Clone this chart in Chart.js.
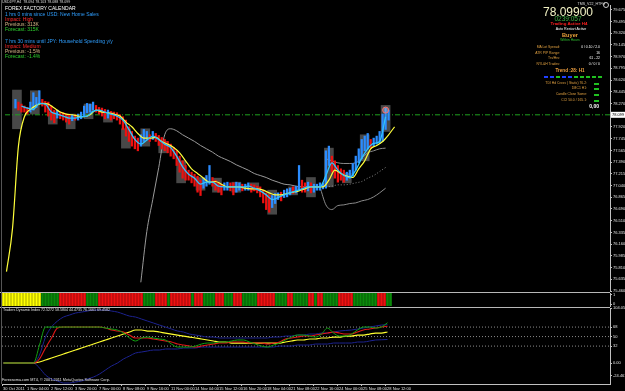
<!DOCTYPE html>
<html>
<head>
<meta charset="utf-8">
<script src="https://cdn.jsdelivr.net/npm/chart.js@4.4.0/dist/chart.umd.min.js"></script>
<style>
  html, body { margin: 0; padding: 0; background: #000; }
  body { width: 625px; height: 391px; position: relative; overflow: hidden; font-family: "Liberation Sans", Arial, sans-serif; }
  canvas { position: absolute; left: 0; }
  .t { position: absolute; white-space: nowrap; line-height: 1; }
  .c { transform: translateX(-50%); }
  .sep { position: absolute; left: 0; width: 610px; height: 1px; background: #b8b8b8; }
  .sq { position: absolute; width: 4px; height: 2px; }
</style>
</head>
<body>
<canvas id="mainChart" width="625" height="296" style="top:0"></canvas>
<canvas id="stripChart" width="625" height="19" style="top:290px"></canvas>
<canvas id="tdiChart" width="625" height="85" style="top:306px"></canvas>

<div class="sep" style="top:292px"></div>
<div class="sep" style="top:307px"></div>
<div style="position:absolute;left:1px;top:0;width:1px;height:384px;background:#555"></div>

<!-- calendar block, top left -->
<div class="t" style="left:2px;top:1px;font-size:3.6px;color:#ddd">USDJPY,H4&nbsp; 78.094 78.103 78.088 78.099</div>
<div class="t" style="left:5px;top:5.8px;font-size:5px;color:#fff">FOREX FACTORY CALENDAR</div>
<div class="t" style="left:5px;top:11.5px;font-size:5px;color:#2f9fff">1 hrs 0 mins since USD: New Home Sales</div>
<div class="t" style="left:5px;top:16.5px;font-size:5px;color:#ff2a2a">Impact: High</div>
<div class="t" style="left:5px;top:21.5px;font-size:5px;color:#d8b888">Previous: 313K</div>
<div class="t" style="left:5px;top:26.5px;font-size:5px;color:#2ed12e">Forecast: 315K</div>
<div class="t" style="left:5px;top:38.5px;font-size:5px;color:#2f9fff">7 hrs 30 mins until JPY: Household Spending y/y</div>
<div class="t" style="left:5px;top:43.5px;font-size:5px;color:#ff2a2a">Impact: Medium</div>
<div class="t" style="left:5px;top:48.5px;font-size:5px;color:#d8b888">Previous: -1.5%</div>
<div class="t" style="left:5px;top:53.5px;font-size:5px;color:#2ed12e">Forecast: -1.4%</div>

<!-- expert panel, top right -->
<div class="t" style="right:20px;top:2.5px;font-size:3.6px;color:#ddd">TMS_V22_HTFH</div>
<div style="position:absolute;left:603px;top:2px;width:4px;height:4px;border:1px solid #ccc;border-radius:50%"></div>
<div class="t c" style="left:568px;top:6px;font-size:12px;color:#f2f2c4">78.09900</div>
<div class="t c" style="left:568px;top:15.8px;font-size:6.5px;color:#3cb043">0239:057</div>
<div class="t c" style="left:569px;top:22.3px;font-size:4.4px;font-weight:bold;color:#ff2020">Trading Active H4</div>
<div class="t c" style="left:571px;top:27.7px;font-size:3.6px;color:#fff">Auto Restart Active</div>
<div class="t c" style="left:570px;top:32.7px;font-size:5.6px;font-weight:bold;color:#eaa23a">Buyer</div>
<div class="t c" style="left:570px;top:38.8px;font-size:3.4px;color:#30c030">Within Hours</div>

<div class="t" style="right:65px;top:46.3px;font-size:3.4px;color:#e0a040">MA Lot Spread:</div>
<div class="t" style="right:25px;top:46.3px;font-size:3.4px;color:#fff">0 / 0.10 / 2.0</div>
<div class="t" style="right:65px;top:51.6px;font-size:3.4px;color:#e0a040">ATR PIP Range:</div>
<div class="t" style="right:25px;top:51.6px;font-size:3.4px;color:#fff">16</div>
<div class="t" style="right:65px;top:57.3px;font-size:3.4px;color:#e0a040">Trs/Hrs:</div>
<div class="t" style="right:25px;top:57.3px;font-size:3.4px;color:#fff">61 - 22</div>
<div class="t" style="right:65px;top:63.3px;font-size:3.4px;color:#e0a040">NYL&amp;H Trades:</div>
<div class="t" style="right:25px;top:63.3px;font-size:3.4px;color:#fff">0 / 0 / 0</div>
<div class="t c" style="left:570px;top:68.7px;font-size:4.6px;font-weight:bold;color:#f0a040">Trend :28: H1</div>
<div id="trendRow"></div>

<div class="t" style="right:38px;top:81.6px;font-size:3.4px;color:#e0a040">TDI Hd Cross ( Static) 76.2:</div>
<div class="t" style="right:38px;top:87.3px;font-size:3.4px;color:#e0a040">1MC1 H1:</div>
<div class="t" style="right:38px;top:93px;font-size:3.4px;color:#e0a040">Candle Close Same:</div>
<div class="t" style="right:38px;top:98.6px;font-size:3.4px;color:#e0a040">CCI 50.0 / 165.1:</div>
<div class="sq" style="left:594px;top:82.5px;width:5px;background:#20c020"></div>
<div class="sq" style="left:594px;top:88.2px;width:5px;background:#20c020"></div>
<div class="sq" style="left:594px;top:93.9px;width:5px;background:#20c020"></div>
<div class="sq" style="left:594px;top:99.5px;width:5px;background:#20c020"></div>
<div class="t" style="right:26px;top:104.3px;font-size:5px;font-weight:bold;color:#fff">0,00</div>

<!-- indicator captions -->
<div class="t" style="left:3px;top:309.3px;font-size:3.6px;color:#e0e0e0">Traders Dynamic Index 72.5272 58.5804 44.4735 76.1661 69.4582</div>
<div class="t" style="left:2px;top:379.2px;font-size:3.8px;color:#e0e0e0">Forexsoma.com MT4, © 2001-2011 MetaQuotes Software Corp.</div>

<script>
// ---- data (H4 bars, one slot per bar, slot 0 = 30 Oct 2011) ----
const dateLabels = ["30 Oct 2011", "1 Nov 04:00", "2 Nov 12:00", "3 Nov 20:00", "7 Nov 00:00",
  "8 Nov 08:00", "9 Nov 16:00", "11 Nov 00:00", "14 Nov 04:00", "15 Nov 12:00", "16 Nov 20:00",
  "18 Nov 04:00", "21 Nov 08:00", "22 Nov 16:00", "24 Nov 00:00", "25 Nov 08:00", "28 Nov 12:00"];
const labelEvery = 8;

const priceTicks = [79.675, 79.495, 79.320, 79.145, 78.970, 78.795, 78.620, 78.445, 78.270,
  77.920, 77.745, 77.565, 77.390, 77.215, 77.040, 76.865, 76.690, 76.510, 76.335, 76.160,
  75.985, 75.810, 75.635, 75.460];
const lastPrice = 78.099;

// price bars, first bar at slot 3
const candleStart = 3;
const candleHigh = [
  78.33, 78.29, 78.26, 78.23, 78.21, 78.29, 78.43, 78.36, 78.46, 78.33,
  78.30, 78.29, 78.23, 78.17, 78.17, 78.14, 78.13, 78.11, 78.10, 78.10,
  78.10, 78.11, 78.14, 78.23, 78.27, 78.26, 78.29, 78.24, 78.21, 78.20,
  78.18, 78.17, 78.15, 78.14, 78.13, 78.10, 78.07, 78.02, 77.92, 77.85,
  77.78, 77.75, 77.80, 77.88, 77.85, 77.80, 77.85, 77.82, 77.79, 77.76,
  77.73, 77.70, 77.66, 77.61, 77.56, 77.48, 77.41, 77.34, 77.27, 77.24,
  77.21, 77.18, 77.12, 77.15, 77.19, 77.34, 77.16, 77.12, 77.09, 77.06,
  77.08, 77.09, 77.08, 77.08, 77.09, 77.08, 77.06, 77.06, 77.08, 77.06,
  77.05, 77.03, 77.02, 76.97, 76.93, 76.90, 76.89, 76.92, 76.93, 76.94,
  76.97, 76.99, 77.00, 77.02, 77.03, 77.34, 77.12, 77.08, 77.09, 77.08,
  77.06, 77.06, 77.08, 77.08, 77.56, 77.63, 77.48, 77.41, 77.34, 77.29,
  77.27, 77.24, 77.27, 77.37, 77.48, 77.59, 77.73, 77.78, 77.82, 77.73,
  77.75, 77.78, 77.85, 78.11, 78.20, 78.17];
const candleLow = [
  78.20, 78.17, 78.14, 78.14, 78.11, 78.14, 78.17, 78.21, 78.26, 78.23,
  78.14, 78.08, 78.02, 77.98, 78.05, 78.04, 78.02, 77.99, 77.96, 78.01,
  78.02, 78.02, 78.04, 78.08, 78.13, 78.14, 78.17, 78.14, 78.11, 78.08,
  78.04, 78.05, 78.02, 78.04, 78.02, 77.96, 77.88, 77.78, 77.70, 77.63,
  77.59, 77.56, 77.63, 77.70, 77.73, 77.70, 77.73, 77.70, 77.64, 77.59,
  77.56, 77.53, 77.48, 77.44, 77.34, 77.24, 77.15, 77.12, 77.12, 77.08,
  77.03, 76.94, 76.89, 77.00, 77.03, 77.06, 77.03, 76.97, 76.94, 76.90,
  76.97, 76.97, 76.96, 76.90, 76.94, 76.97, 76.96, 76.97, 76.97, 76.94,
  76.96, 76.93, 76.87, 76.78, 76.68, 76.64, 76.71, 76.77, 76.83, 76.81,
  76.86, 76.87, 76.90, 76.92, 76.93, 76.97, 76.94, 76.94, 76.96, 76.93,
  76.94, 76.97, 76.97, 76.99, 77.00, 77.34, 77.24, 77.15, 77.09, 77.12,
  77.09, 77.12, 77.15, 77.18, 77.27, 77.38, 77.44, 77.56, 77.59, 77.60,
  77.63, 77.66, 77.67, 77.70, 77.88, 78.02];
const candleDir =
  "udddduuuud" + "dddduddddu" + "duuuuuuddd" + "dudddddddd" + "dduuududdd" +
  "dddddddddd" + "ddduuudddd" + "uudduuduud" + "dddddduuud" + "uuuduuddud" +
  "uuuuuudddd" + "duuuuuuuud" + "uuuuuu";

// daily range boxes
const boxSlot = [3.5, 9.5, 15.5, 21.5, 27.5, 34, 40, 46.5, 52.5, 58.5, 65, 70.5, 77, 83, 89, 96, 102, 108, 114, 120, 127];
const boxTop = [78.47, 78.46, 78.14, 78.11, 78.26, 78.14, 77.89, 77.89, 77.70, 77.41, 77.16,
  77.15, 77.09, 77.08, 76.97, 77.02, 77.16, 77.60, 77.22, 77.80, 78.24];
const boxBottom = [77.89, 78.11, 77.96, 77.89, 78.04, 77.99, 77.60, 77.63, 77.53, 77.08, 76.97,
  76.94, 76.94, 76.97, 76.61, 76.90, 76.87, 77.02, 77.08, 77.41, 77.85];

// moving averages, sampled every 2 slots
const fastMA = [
  78.23, 78.20, 78.18, 78.27, 78.26, 78.14, 78.11, 78.08, 78.05, 78.05,
  78.07, 78.08, 78.15, 78.17, 78.14, 78.11, 78.08, 78.02, 77.88, 77.73,
  77.66, 77.72, 77.78, 77.73, 77.66, 77.61, 77.48, 77.32, 77.21, 77.15,
  77.06, 77.09, 77.09, 77.03, 77.02, 77.02, 77.02, 77.02, 77.03, 77.00,
  76.96, 76.90, 76.83, 76.86, 76.90, 76.93, 76.96, 76.99, 77.02, 77.02,
  77.02, 77.19, 77.38, 77.27, 77.19, 77.16, 77.27, 77.45, 77.59, 77.67,
  77.70, 78.07];                                   // from slot 5
const slowMA = [
  75.75, 76.39, 77.63, 78.07, 78.18, 78.24, 78.27, 78.26, 78.20, 78.14, 78.11,
  78.10, 78.08, 78.07, 78.10, 78.17, 78.14, 78.13, 78.11, 78.08, 77.99,
  77.92, 77.82, 77.75, 77.75, 77.76, 77.70, 77.66, 77.61, 77.53, 77.41,
  77.29, 77.22, 77.15, 77.09, 77.10, 77.06, 77.02, 77.02, 77.02, 77.00,
  76.99, 76.99, 76.97, 76.93, 76.90, 76.90, 76.92, 76.94, 76.96, 76.99,
  77.02, 77.02, 77.02, 77.12, 77.27, 77.22, 77.18, 77.16, 77.29, 77.41,
  77.59, 77.64, 77.70, 77.80, 77.92];              // from slot 0
const longMA = [
  75.59, 76.35, 76.83, 77.31, 77.80, 77.89, 77.86, 77.80, 77.75, 77.70,
  77.64, 77.59, 77.54, 77.48, 77.44, 77.40, 77.35, 77.31, 77.27, 77.22,
  77.19, 77.16, 77.12, 77.09, 77.06, 77.05, 77.03, 77.02, 77.02, 77.02,
  77.02];                                          // from slot 45
const bandUpper = [77.44, 77.41, 77.38, 77.37, 77.37, 77.38, 77.45, 77.53, 77.56, 77.59, 77.60]; // from slot 107
const bandMid = [77.02, 77.03, 77.05, 77.05, 77.06, 77.08, 77.10, 77.15, 77.19, 77.25, 77.31];   // from slot 107
const bandLower = [77.02, 76.75, 76.68, 76.74, 76.75, 76.77, 76.78, 76.81, 76.83, 76.87, 76.93, 77.00]; // from slot 105

// signal strip segments
const stripColors = ["y", "g", "r", "g", "r", "g", "r", "g", "r", "g", "r", "g", "r", "g",
  "r", "g", "r", "g", "r", "g", "r", "g", "r", "g", "r", "g", "r", "g"];
const stripLengths = [13, 6, 9, 4, 15, 4, 4, 1, 7, 1, 3, 4, 3, 3, 3, 5, 6, 4, 2, 5, 2, 1, 2, 5, 5, 8, 3, 2];

// Traders Dynamic Index, every 2 slots from slot 0
const tdiPrice = [
  0, 0, 0, 0, 0, 0, 34.0, 68.0, 68.0, 68.0,
  68.0, 68.0, 68.0, 68.0, 68.0, 68.0, 68.0, 66.2, 64.3, 62.4,
  56.7, 47.3, 41.6, 47.3, 49.1, 47.3, 45.4, 43.5, 35.9, 30.2,
  30.2, 30.2, 32.1, 35.9, 37.8, 37.8, 39.7, 39.7, 41.6, 43.5,
  43.5, 39.7, 35.9, 32.1, 30.2, 34.0, 37.8, 43.5, 49.1, 52.9,
  52.9, 51.0, 49.1, 54.8, 66.2, 56.7, 51.0, 51.0, 54.8, 62.4,
  68.1, 68.1, 66.2, 68.1, 76.2];
const tdiSignal = [
  0, 0, 0, 0, 0, 0, 7.6, 28.4, 47.3, 66.2,
  68.0, 68.0, 68.0, 68.0, 68.0, 68.0, 68.0, 66.2, 62.4, 60.5,
  58.6, 52.9, 47.3, 47.3, 47.3, 45.4, 43.5, 41.6, 39.7, 35.9,
  34.0, 32.1, 30.2, 32.1, 34.0, 35.9, 37.8, 37.8, 39.7, 39.7,
  39.7, 37.8, 37.8, 37.8, 35.9, 37.8, 39.7, 45.4, 47.3, 49.1,
  51.0, 51.0, 52.9, 54.8, 56.7, 58.6, 56.7, 54.8, 54.8, 58.6,
  62.4, 64.3, 66.2, 68.1, 69.5];
const tdiBase = [
  0, 0, 0, 0, 0, 0, 1.9, 5.7, 9.5, 13.2,
  17.0, 20.8, 24.6, 28.4, 32.1, 35.9, 39.7, 43.5, 47.3, 51.0,
  54.8, 58.6, 62.4, 62.4, 60.5, 60.5, 58.6, 56.7, 54.8, 52.9,
  51.0, 49.1, 47.3, 45.4, 43.5, 41.6, 39.7, 39.7, 37.8, 37.8,
  37.8, 37.8, 37.8, 37.8, 37.8, 37.8, 37.8, 39.7, 41.6, 43.5,
  43.5, 45.4, 45.4, 47.3, 47.3, 49.1, 49.1, 51.0, 51.0, 52.9,
  52.9, 54.8, 56.7, 56.7, 58.6];
const tdiUpper = [
  0, 0, 0, 0, 0, 0, 15.1, 49.1, 68.1, 79.4,
  87.0, 90.7, 94.5, 96.4, 98.3, 100.2, 100.2, 100.2, 98.3, 96.4,
  92.6, 88.8, 87.0, 83.2, 79.4, 75.6, 71.8, 68.1, 64.3, 60.5,
  58.6, 54.8, 52.9, 51.0, 49.1, 49.1, 47.3, 47.3, 47.3, 47.3,
  47.3, 47.3, 47.3, 47.3, 47.3, 49.1, 49.1, 51.0, 51.0, 52.9,
  52.9, 54.8, 54.8, 56.7, 56.7, 58.6, 60.5, 61.5, 62.4, 64.3,
  66.2, 68.1, 69.9, 71.8, 72.5];
const tdiLower = [
  0, 0, 0, 0, 0, 0, -9.5, -22.7, -30.2, -34.0,
  -37.8, -37.8, -35.9, -34.0, -30.2, -26.5, -20.8, -13.2, -5.7, 0,
  7.6, 13.2, 18.9, 20.8, 22.7, 24.6, 24.6, 26.5, 26.5, 26.5,
  28.4, 28.4, 28.4, 30.2, 30.2, 30.2, 30.2, 30.2, 30.2, 30.2,
  30.2, 30.2, 30.2, 30.2, 30.2, 30.2, 32.1, 32.1, 32.1, 34.0,
  34.0, 34.0, 35.9, 35.9, 35.9, 37.8, 37.8, 37.8, 37.8, 39.7,
  39.7, 41.6, 43.5, 44.0, 44.5];
const tdiLevels = [68, 50, 32];
const tdiTicks = [104.0592, 68, 50, 32, 0, -24.461];
const tdiTickLabels = ["104.0592", "68", "50", "32", "0.00", "-24.461"];

const trendBoxes = ["b", "b", "g", "b", "b", "g", "g", "g", "g", "g"];

// ---- styling ----
const slotMin = -0.5;
const slotMax = 202.17;
const UP = "#2b8cff";
const DOWN = "#ee1010";
const stripPalette = { y: "#ffff00", g: "#0a8a0a", r: "#ee1111" };
const axisGray = "#c0c0c0";
const tickFont = { family: "Liberation Sans", size: 4 };

Chart.defaults.animation = false;
Chart.defaults.color = "#e0e0e0";

function series(start, step, values) {
  return values.map((v, i) => ({ x: start + i * step, y: v }));
}

function flatLine(value) {
  return [{ x: slotMin, y: value }, { x: slotMax, y: value }];
}

function lineSet(data, color, width, order, extra) {
  return Object.assign({
    type: "line", data: data, borderColor: color, borderWidth: width,
    pointRadius: 0, cubicInterpolationMode: "monotone", tension: 0.3, order: order
  }, extra || {});
}

function rightAxis(min, max, tickValues, format, width) {
  return {
    position: "right", min: min, max: max,
    afterBuildTicks: (scale) => { scale.ticks = tickValues.map((v) => ({ value: v })); },
    afterFit: (scale) => { scale.width = width; scale.paddingTop = 0; scale.paddingBottom = 0; },
    ticks: { autoSkip: false, padding: 1, font: tickFont, color: "#e0e0e0", callback: format },
    grid: { drawOnChartArea: false, drawTicks: true, tickLength: 2, color: axisGray },
    border: { color: axisGray }
  };
}

function hiddenX() {
  return { type: "linear", min: slotMin, max: slotMax, offset: false, display: false, grid: { offset: false } };
}

const baseOptions = {
  responsive: false,
  devicePixelRatio: 1,
  plugins: { legend: { display: false }, tooltip: { enabled: false } },
  events: []
};

// current price tag on the axis
const priceTagPlugin = {
  id: "priceTag",
  afterDraw(chart) {
    const { ctx, chartArea } = chart;
    const py = chart.scales.y.getPixelForValue(lastPrice);
    ctx.save();
    ctx.fillStyle = "#ffffff";
    ctx.fillRect(chartArea.right + 1, py - 3, 14, 6);
    ctx.fillStyle = "#000000";
    ctx.font = '4px "Liberation Sans"';
    ctx.textBaseline = "middle";
    ctx.fillText(lastPrice.toFixed(3), chartArea.right + 2, py + 0.3);
    ctx.restore();
  }
};

// ---- main price pane ----
const candleData = candleHigh.map((h, i) => ({ x: candleStart + i, y: [candleLow[i], h] }));
const candleColors = candleDir.split("").map((d) => (d === "u" ? UP : DOWN));
const boxData = boxSlot.map((s, i) => ({ x: s, y: [boxBottom[i], boxTop[i]] }));

const mainCtx = document.getElementById("mainChart");
window.mainChart = new Chart(mainCtx.getContext("2d"), {
  type: "bar",
  data: {
    datasets: [
      lineSet([{ x: 127, y: 78.17 }], "#ff7070", 1, 1, {
        showLine: false, pointRadius: 3, pointBackgroundColor: "rgba(200,200,200,0.35)", pointBorderColor: "#ff7070"
      }),
      lineSet(series(5, 2, fastMA), "#2fc4ff", 1.3, 3),
      lineSet(series(0, 2, slowMA), "#ffff3a", 1.2, 4),
      {
        type: "bar", data: candleData, backgroundColor: candleColors, barThickness: 1.6,
        grouped: false, order: 6
      },
      lineSet(series(45, 2, longMA), "#9a9a9a", 1, 7),
      lineSet(series(107, 2, bandUpper), "#8a8a8a", 1, 7),
      lineSet(series(107, 2, bandMid), "#8a8a8a", 1, 7, { borderDash: [1, 2] }),
      lineSet(series(105, 2, bandLower), "#8a8a8a", 1, 7),
      lineSet(flatLine(lastPrice), "#1fa01f", 1, 8, { borderDash: [5, 2, 1, 2], tension: 0 }),
      {
        type: "bar", data: boxData, backgroundColor: "rgba(120,120,120,0.6)", barThickness: 9,
        grouped: false, order: 10
      }
    ]
  },
  options: Object.assign({}, baseOptions, {
    layout: { padding: { left: 2, right: 0, top: 0, bottom: 4 } },
    scales: {
      x: hiddenX(),
      y: rightAxis(75.46, 79.744, priceTicks, (v) => Number(v).toFixed(3), 15)
    }
  }),
  plugins: [priceTagPlugin]
});

// ---- signal strip ----
const stripData = [];
const stripBarColors = [];
let slot = 0;
stripColors.forEach((c, i) => {
  for (let j = 0; j < stripLengths[i]; j++) {
    stripData.push({ x: slot, y: [-0.2, 1.2] });
    stripBarColors.push(stripPalette[c]);
    slot++;
  }
});

const stripCtx = document.getElementById("stripChart");
window.stripChart = new Chart(stripCtx.getContext("2d"), {
  type: "bar",
  data: {
    datasets: [{ data: stripData, backgroundColor: stripBarColors, barThickness: 2, grouped: false }]
  },
  options: Object.assign({}, baseOptions, {
    layout: { padding: { left: 2, right: 0, top: 3, bottom: 3 } },
    scales: {
      x: hiddenX(),
      y: rightAxis(-0.2, 1.2, [1, 0], (v) => String(v), 15)
    }
  })
});

// ---- TDI pane ----
const tdiCtx = document.getElementById("tdiChart");
window.tdiChart = new Chart(tdiCtx.getContext("2d"), {
  type: "line",
  data: {
    datasets: [
      lineSet(series(0, 2, tdiPrice), "#10a010", 1, 1),
      lineSet(series(0, 2, tdiSignal), "#e01818", 1.1, 2),
      lineSet(series(0, 2, tdiBase), "#ffff30", 1.2, 3),
      lineSet(series(0, 2, tdiUpper), "#1c2290", 1, 4),
      lineSet(series(0, 2, tdiLower), "#1c2290", 1, 4)
    ].concat(tdiLevels.map((lv) =>
      lineSet(flatLine(lv), "#8c8c8c", 1, 9, { borderDash: [1, 2], tension: 0 })))
  },
  options: Object.assign({}, baseOptions, {
    layout: { padding: { left: 2, right: 0, top: 2, bottom: 0 } },
    scales: {
      x: {
        type: "linear", min: slotMin, max: slotMax, position: "bottom",
        afterBuildTicks: (scale) => {
          scale.ticks = dateLabels.map((_, i) => ({ value: slotMin + i * labelEvery }));
        },
        afterFit: (scale) => { scale.height = 7; scale.paddingLeft = 0; scale.paddingRight = 0; },
        ticks: {
          autoSkip: false, maxRotation: 0, align: "start", padding: 0, font: tickFont, color: "#e0e0e0",
          callback: (v, i) => " " + dateLabels[i]
        },
        grid: { drawOnChartArea: false, drawTicks: true, tickLength: 2, color: axisGray },
        border: { color: axisGray }
      },
      y: rightAxis(-39.7, 104.0592, tdiTicks, (v, i) => tdiTickLabels[i], 15)
    }
  })
});

// trend boxes row in the panel
const trendRow = document.getElementById("trendRow");
trendBoxes.forEach((c, i) => {
  const sq = document.createElement("div");
  sq.className = "sq";
  sq.style.left = (544 + i * 6) + "px";
  sq.style.top = "75.5px";
  sq.style.background = c === "b" ? "#2040ff" : "#20c020";
  trendRow.appendChild(sq);
});
</script>
</body>
</html>
